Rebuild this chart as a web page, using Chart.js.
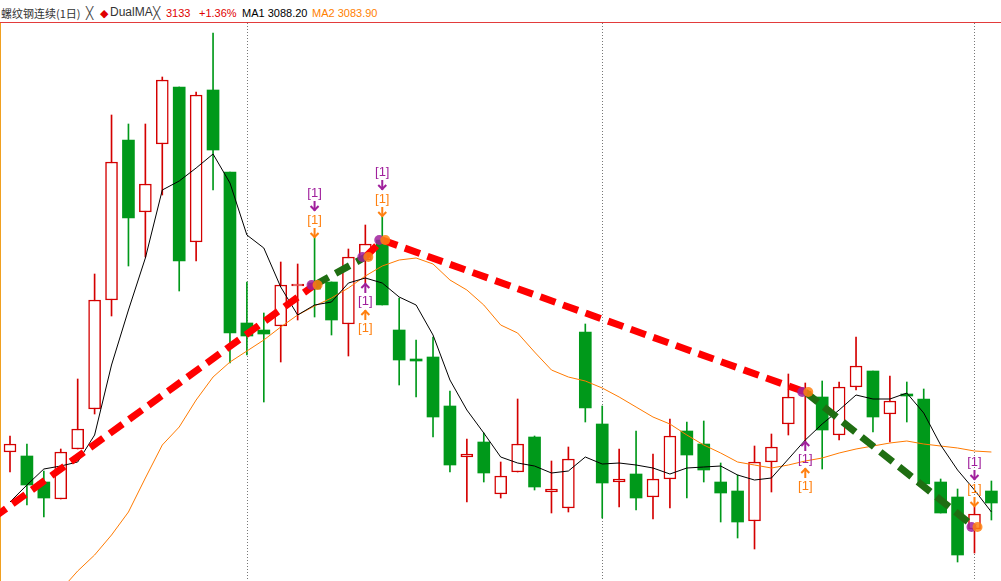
<!DOCTYPE html>
<html>
<head>
<meta charset="utf-8">
<script src="https://cdn.jsdelivr.net/npm/chart.js@4.4.0/dist/chart.umd.min.js"></script>
<style>
html, body { margin: 0; padding: 0; background: #fff; }
#wrap { position: relative; width: 1001px; height: 581px; overflow: hidden; }
#head { position: absolute; left: 0; top: 0; width: 1001px; height: 22px; border-bottom: 1px solid #e23b3b; font: 11px "Liberation Sans", sans-serif; }
#head span { position: absolute; top: 6px; line-height: 14px; white-space: nowrap; }
#edge { position: absolute; left: 0; top: 23px; width: 1px; height: 558px; background: #f0a020; }
canvas { position: absolute; left: 0; top: 23px; }
</style>
</head>
<body>
<div id="wrap">
  <div id="head">
    <span style="left:1px;color:#333;font-family:'Noto Sans CJK SC';">螺纹钢连续(1日)</span>
    <span style="left:86px;color:#444;font-size:12px;font-family:'DejaVu Sans';">╳</span>
    <span style="left:100px;color:#e00000;">◆</span>
    <span style="left:110px;color:#333;font-size:12px;top:5px;">DualMA</span>
    <span style="left:153px;color:#444;font-size:12px;font-family:'DejaVu Sans';">╳</span>
    <span style="left:166px;color:#e00000;">3133</span>
    <span style="left:199px;color:#e00000;">+1.36%</span>
    <span style="left:242px;color:#000;">MA1 3088.20</span>
    <span style="left:312px;color:#ff7f00;">MA2 3083.90</span>
  </div>
  <div id="edge"></div>
  <canvas id="c" width="1001" height="558"></canvas>
</div>
<script>
// daily bars
var opens  = [3235,3227,3175,3141,3241,3321,3539,3859,3715,3851,
              3965,3655,3959,3795,3493,3479,3487,3567,3573,3575,
              3491,3619,3659,3479,3421,3425,3327,3225,3255,3151,
              3195,3265,3155,3123,3475,3291,3175,3191,3145,3181,
              3277,3251,3175,3157,3097,3215,3291,3351,3345,3269,
              3365,3397,3311,3351,3341,3175,3145,3081,3157];
var highs  = [3267,3251,3197,3241,3381,3591,3909,3891,3891,3985,
              3965,3955,4073,3795,3575,3513,3615,3611,3663,3575,
              3641,3689,3705,3543,3459,3465,3357,3261,3273,3215,
              3341,3267,3217,3245,3491,3327,3241,3277,3231,3301,
              3295,3297,3213,3189,3247,3271,3391,3373,3377,3375,
              3465,3397,3387,3375,3361,3181,3161,3125,3177];
var lows   = [3195,3129,3105,3141,3241,3311,3507,3607,3625,3749,
              3557,3617,3759,3413,3429,3335,3415,3499,3505,3469,
              3427,3573,3529,3369,3345,3265,3195,3135,3175,3143,
              3195,3159,3113,3115,3295,3103,3125,3119,3101,3123,
              3143,3175,3095,3063,3041,3155,3269,3257,3201,3259,
              3359,3275,3255,3295,3171,3113,3015,3033,3099];
var closes = [3251,3169,3143,3235,3281,3539,3815,3703,3771,3979,
              3617,3949,3839,3473,3467,3471,3569,3571,3561,3499,
              3625,3651,3529,3419,3417,3305,3209,3231,3193,3187,
              3251,3165,3161,3221,3323,3173,3181,3143,3181,3267,
              3229,3199,3153,3095,3215,3245,3345,3357,3279,3365,
              3407,3305,3337,3347,3171,3113,3029,3111,3133];

var ma1 = [3135,3169,3201,3207,3215,3269,3409,3519,3623,3759,
           3777,3803,3831,3773,3669,3643,3565,3509,3529,3535,
           3573,3583,3573,3545,3529,3469,3379,3319,3273,3225,
           3213,3207,3193,3197,3225,3211,3213,3209,3203,3191,
           3203,3205,3207,3189,3179,3183,3221,3259,3291,3319,
           3349,3341,3341,3353,3313,3249,3199,3159,3115];
var ma2 = [null,null,null,2959,2997,3029,3069,3115,3183,3249,
           3285,3339,3385,3415,3437,3459,3485,3509,3527,3543,
           3563,3587,3607,3619,3623,3611,3579,3559,3529,3489,
           3473,3435,3399,3385,3377,3363,3345,3325,3305,3291,
           3269,3249,3233,3215,3209,3203,3209,3217,3223,3233,
           3241,3247,3253,3257,3251,3247,3243,3237,3235];

// DualMA swing line
var pivotIdx = [-1, 18, 21, 22, 47, 57];
var pivotVal = [3103, 3569, 3625, 3659, 3355, 3085];
var legColor = ['#ff0000', '#1f6e12', '#ff0000', '#ff0000', '#1f6e12'];

var sellIdx = [18, 22, 57];
var buyIdx = [21, 47];
var monthStart = [14, 35, 57];

var RED = '#d40000', GREEN = '#00991a';
var PURPLE = '#a0209c', ORANGE = '#ff8010';

var up = opens.map(function (o, i) { return closes[i] >= o; });
var bodies = opens.map(function (o, i) { return { x: i, y: [o, closes[i]] }; });
var wicks = lows.map(function (l, i) { return { x: i, y: [l, highs[i]] }; });
var xy = function (arr) { return arr.map(function (v, i) { return { x: i, y: v }; }); };

function arrow(c, px, tip, dir, col) {
    c.strokeStyle = col;
    c.lineWidth = 2;
    c.beginPath();
    c.moveTo(px, tip - dir * 10);
    c.lineTo(px, tip);
    c.stroke();
    c.beginPath();
    c.moveTo(px - 4, tip - dir * 5);
    c.lineTo(px, tip - dir);
    c.lineTo(px + 4, tip - dir * 5);
    c.stroke();
}

function tag(c, px, cy, col) {
    c.fillStyle = col;
    c.font = '13px "Liberation Sans"';
    c.textAlign = 'center';
    c.textBaseline = 'middle';
    c.fillText('[1]', px, cy);
}

var signals = {
    id: 'signals',
    beforeDatasetsDraw: function (chart) {
        var c = chart.ctx, x = chart.scales.x, a = chart.chartArea;
        c.save();
        c.strokeStyle = '#777';
        c.lineWidth = 1;
        c.setLineDash([1, 2]);
        monthStart.forEach(function (i) {
            var px = Math.round(x.getPixelForValue(i)) + 0.5;
            c.beginPath();
            c.moveTo(px, a.top);
            c.lineTo(px, a.bottom);
            c.stroke();
        });
        c.restore();
    },
    afterDatasetsDraw: function (chart) {
        var c = chart.ctx, x = chart.scales.x, y = chart.scales.y;
        c.save();
        // dots on the swing points
        pivotIdx.forEach(function (p, k) {
            if (k === 0) return;
            var px = x.getPixelForValue(p), py = y.getPixelForValue(pivotVal[k]);
            c.globalAlpha = 0.85;
            c.fillStyle = PURPLE;
            c.beginPath(); c.arc(px - 3, py, 5, 0, Math.PI * 2); c.fill();
            c.fillStyle = ORANGE;
            c.beginPath(); c.arc(px + 3, py, 5, 0, Math.PI * 2); c.fill();
        });
        c.globalAlpha = 1;
        sellIdx.forEach(function (i) {
            var px = x.getPixelForValue(i), hy = y.getPixelForValue(highs[i]);
            arrow(c, px, hy, 1, ORANGE);
            tag(c, px, hy - 18, ORANGE);
            arrow(c, px, hy - 27, 1, PURPLE);
            tag(c, px, hy - 45, PURPLE);
        });
        buyIdx.forEach(function (i) {
            var px = x.getPixelForValue(i), ly = y.getPixelForValue(lows[i]);
            arrow(c, px, ly, -1, PURPLE);
            tag(c, px, ly + 18, PURPLE);
            arrow(c, px, ly + 27, -1, ORANGE);
            tag(c, px, ly + 45, ORANGE);
        });
        c.restore();
    }
};

new Chart(document.getElementById('c'), {
    type: 'bar',
    data: {
        datasets: [
            {
                type: 'line',
                data: pivotIdx.map(function (p, k) { return { x: p, y: pivotVal[k] }; }),
                borderColor: '#ff0000',
                borderWidth: 7,
                borderDash: [16, 8],
                pointRadius: 0,
                segment: { borderColor: function (ctx) { return legColor[ctx.p0DataIndex]; } }
            },
            { type: 'line', data: xy(ma1), borderColor: '#000', borderWidth: 1, pointRadius: 0 },
            { type: 'line', data: xy(ma2), borderColor: '#ff7a00', borderWidth: 1, pointRadius: 0 },
            {
                data: bodies,
                backgroundColor: up.map(function (u) { return u ? '#fff' : GREEN; }),
                borderColor: up.map(function (u) { return u ? RED : GREEN; }),
                borderWidth: up.map(function (u) { return u ? 1.5 : 0; }),
                borderSkipped: false,
                barThickness: 12,
                grouped: false
            },
            {
                data: wicks,
                backgroundColor: up.map(function (u) { return u ? RED : GREEN; }),
                barThickness: 1,
                grouped: false
            }
        ]
    },
    options: {
        responsive: false,
        animation: false,
        layout: { padding: 0 },
        plugins: { legend: { display: false }, tooltip: { enabled: false } },
        scales: {
            x: { type: 'linear', min: -0.591, max: 58.567, offset: false, display: false },
            y: { min: 2977, max: 4093, display: false }
        }
    },
    plugins: [signals]
});
</script>
</body>
</html>
